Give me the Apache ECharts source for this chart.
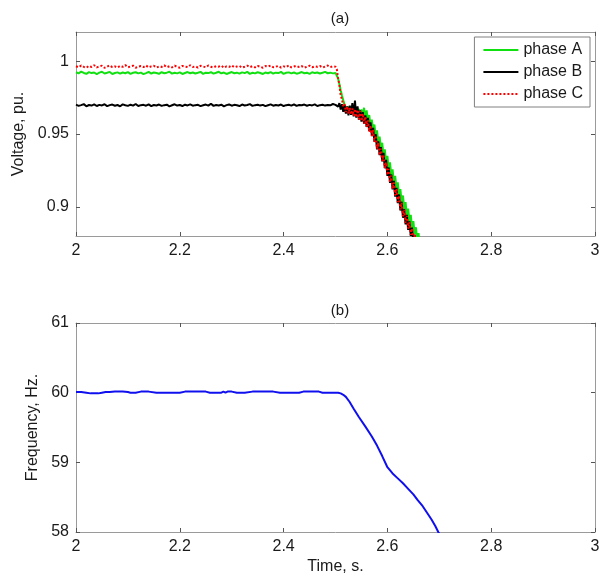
<!DOCTYPE html>
<html><head><meta charset="utf-8">
<script src="https://cdn.jsdelivr.net/npm/echarts@6/dist/echarts.min.js"></script>
<style>html,body{margin:0;padding:0;background:#fff}#c{width:610px;height:576px}</style>
</head><body><div id="c"></div>
<script>
// ---- sampling grid of the voltage record (time, s) ----
const flatStart = 2.0, flatStep = 0.005;     // 2.000 .. 2.500
const dropStart = 2.5025, dropStep = 0.0025; // 2.5025 ..

// ---- panel (a): voltage, pu ----
const phaseA_flat = [0.9924,0.9916,0.9928,0.9919,0.9913,0.9925,0.9918,0.9922,0.9911,0.9921,
0.9927,0.9915,0.9920,0.9926,0.9912,0.9919,0.9923,0.9914,0.9922,0.9917,
0.9925,0.9913,0.9920,0.9924,0.9916,0.9921,0.9911,0.9918,0.9926,0.9915,
0.9922,0.9919,0.9913,0.9924,0.9917,0.9921,0.9927,0.9914,0.9920,0.9916,
0.9923,0.9912,0.9919,0.9925,0.9917,0.9922,0.9915,0.9920,0.9926,0.9913,
0.9921,0.9918,0.9924,0.9914,0.9920,0.9927,0.9916,0.9922,0.9912,0.9919,
0.9925,0.9917,0.9921,0.9914,0.9923,0.9918,0.9926,0.9913,0.9920,0.9916,
0.9924,0.9919,0.9912,0.9922,0.9917,0.9925,0.9915,0.9921,0.9918,0.9926,
0.9913,0.9920,0.9923,0.9916,0.9922,0.9914,0.9919,0.9925,0.9917,0.9921,
0.9912,0.9924,0.9918,0.9922,0.9915,0.9920,0.9926,0.9917,0.9921,0.9916,
0.9919];
const phaseA_drop = [0.9912,0.9880,0.9842,0.9800,0.9765,0.9732,0.9700,0.9692,0.9665,0.9688,
0.9655,0.9682,0.9650,0.9678,0.9645,0.9675,0.9640,0.9672,0.9630,0.9668,
0.9620,0.9680,0.9605,0.9662,0.9585,0.9630,0.9555,0.9598,0.9520,0.9565,
0.9478,0.9525,0.9438,0.9482,0.9395,0.9440,0.9350,0.9395,0.9305,0.9350,
0.9258,0.9305,0.9212,0.9258,0.9165,0.9212,0.9120,0.9168,0.9075,0.9122,
0.9030,0.9078,0.8985,0.9032,0.8940,0.8988,0.8898,0.8945,0.8855,0.8902,
0.8815,0.8860,0.8772,0.8820,0.8730,0.8780,0.8690];

const phaseB_flat = [0.9701,0.9693,0.9698,0.9705,0.9690,0.9699,0.9695,0.9703,0.9692,0.9700,
0.9696,0.9704,0.9691,0.9698,0.9702,0.9694,0.9699,0.9690,0.9703,0.9697,
0.9693,0.9701,0.9695,0.9706,0.9692,0.9698,0.9700,0.9694,0.9703,0.9691,
0.9699,0.9696,0.9702,0.9693,0.9698,0.9701,0.9690,0.9697,0.9704,0.9695,
0.9699,0.9692,0.9701,0.9696,0.9703,0.9694,0.9698,0.9700,0.9691,0.9697,
0.9702,0.9695,0.9708,0.9693,0.9699,0.9696,0.9701,0.9690,0.9698,0.9703,
0.9694,0.9700,0.9697,0.9692,0.9702,0.9696,0.9699,0.9705,0.9693,0.9698,
0.9701,0.9695,0.9700,0.9691,0.9697,0.9703,0.9694,0.9699,0.9696,0.9702,
0.9692,0.9698,0.9701,0.9695,0.9704,0.9693,0.9699,0.9697,0.9702,0.9694,
0.9700,0.9696,0.9703,0.9692,0.9698,0.9701,0.9695,0.9699,0.9697,0.9706,
0.9700];
const phaseB_drop = [0.9702,0.9688,0.9712,0.9668,0.9704,0.9652,0.9698,0.9640,0.9690,0.9628,
0.9695,0.9632,0.9712,0.9620,0.9730,0.9612,0.9690,0.9598,0.9662,0.9585,
0.9650,0.9570,0.9628,0.9548,0.9610,0.9522,0.9580,0.9490,0.9542,0.9448,
0.9498,0.9395,0.9450,0.9355,0.9410,0.9312,0.9370,0.9265,0.9322,0.9212,
0.9270,0.9165,0.9222,0.9120,0.9178,0.9070,0.9130,0.9025,0.9085,0.8975,
0.9035,0.8925,0.8985,0.8880,0.8945,0.8842,0.8900,0.8800,0.8858,0.8762,
0.8810,0.8720,0.8768,0.8680];

const phaseC_flat = [0.9965,0.9958,0.9970,0.9961,0.9955,0.9968,0.9960,0.9972,0.9957,0.9963,
0.9969,0.9954,0.9962,0.9971,0.9959,0.9964,0.9956,0.9967,0.9961,0.9973,
0.9958,0.9963,0.9969,0.9955,0.9962,0.9966,0.9959,0.9970,0.9957,0.9964,
0.9968,0.9956,0.9963,0.9960,0.9971,0.9958,0.9965,0.9957,0.9969,0.9961,
0.9955,0.9967,0.9962,0.9959,0.9972,0.9960,0.9964,0.9956,0.9968,0.9963,
0.9958,0.9970,0.9961,0.9957,0.9966,0.9962,0.9969,0.9955,0.9964,0.9960,
0.9971,0.9958,0.9963,0.9967,0.9956,0.9962,0.9969,0.9959,0.9965,0.9957,
0.9968,0.9961,0.9955,0.9966,0.9963,0.9970,0.9958,0.9962,0.9967,0.9956,
0.9964,0.9960,0.9971,0.9957,0.9963,0.9968,0.9959,0.9965,0.9955,0.9962,
0.9969,0.9958,0.9964,0.9961,0.9967,0.9956,0.9963,0.9970,0.9959,0.9964,
0.9962];
const phaseC_drop = [0.9945,0.9885,0.9835,0.9765,0.9738,0.9690,0.9705,0.9650,0.9690,0.9640,
0.9680,0.9635,0.9675,0.9625,0.9672,0.9615,0.9665,0.9600,0.9658,0.9590,
0.9640,0.9570,0.9618,0.9550,0.9595,0.9515,0.9560,0.9485,0.9528,0.9445,
0.9490,0.9400,0.9440,0.9355,0.9400,0.9315,0.9355,0.9268,0.9305,0.9218,
0.9260,0.9170,0.9215,0.9125,0.9168,0.9078,0.9122,0.9032,0.9075,0.8982,
0.9028,0.8935,0.8980,0.8890,0.8938,0.8850,0.8895,0.8808,0.8852,0.8768,
0.8812,0.8725,0.8770,0.8690];

// ---- panel (b): frequency, Hz ----
const freqT = [2.00,2.01,2.02,2.028,2.035,2.043,2.05,2.057,2.065,2.075,2.09,2.10,2.105,2.115,2.125,2.14,2.155,2.165,2.18,2.20,
2.21,2.22,2.235,2.25,2.258,2.27,2.28,2.284,2.288,2.292,2.296,2.30,2.31,2.325,2.34,2.36,2.38,2.393,2.40,2.415,
2.43,2.438,2.45,2.468,2.475,2.49,2.505,2.51,2.515,2.52,2.527,2.535,2.545,2.557,2.57,2.58,2.59,2.600,2.61,2.62,
2.63,2.64,2.65,2.658,2.668,2.677,2.685,2.692,2.698,2.705];
const freqV = [60.01,60.01,60.0,59.99,59.99,59.99,60.0,60.01,60.01,60.015,60.015,60.01,60.0,60.0,60.015,60.015,60.0,60.0,60.0,60.0,
60.015,60.015,60.015,60.015,60.0,60.0,60.0,60.015,60.0,60.015,60.015,60.015,60.0,60.0,60.015,60.015,60.015,60.0,60.0,60.0,
60.0,60.015,60.015,60.015,60.0,60.0,60.0,59.99,59.97,59.94,59.87,59.77,59.65,59.52,59.37,59.24,59.09,58.93,58.84,58.77,
58.70,58.62,58.54,58.46,58.37,58.27,58.18,58.09,58.0,57.92];

// ---- axes ----
const timeTicks = {min: 2, max: 3, interval: 0.2};
const voltTicks = [0.9, 0.95, 1];
const voltRange = [0.88, 1.02];
const freqRange = [58, 61];

function pairs(flat, drop) {
  const out = [];
  flat.forEach((v, i) => out.push([+(flatStart + i * flatStep).toFixed(4), v]));
  drop.forEach((v, i) => out.push([+(dropStart + i * dropStep).toFixed(4), v]));
  return out;
}

const FONT = "'Liberation Sans', Arial, sans-serif";
const AX = '#9a9a9a';
const tickStyle = {show: true, inside: true, length: 4, lineStyle: {color: '#555'}};
const lbl = {color: '#1a1a1a', fontSize: 16, fontFamily: FONT};

function xAx(grid, pos, labels, name) {
  return {type: 'value', gridIndex: grid, position: pos, min: timeTicks.min, max: timeTicks.max, interval: timeTicks.interval,
    axisLine: {show: true, onZero: false, lineStyle: {color: AX}}, axisTick: tickStyle, splitLine: {show: false},
    axisLabel: Object.assign({show: labels, margin: 7}, lbl),
    name: name || '', nameLocation: 'middle', nameGap: 27, nameTextStyle: {color: '#1a1a1a', fontSize: 16, fontFamily: FONT}};
}
function yAx(grid, pos, labels, range, custom, interval, name, gap) {
  const a = {type: 'value', gridIndex: grid, position: pos, min: range[0], max: range[1],
    axisLine: {show: true, onZero: false, lineStyle: {color: AX}}, splitLine: {show: false},
    axisTick: Object.assign({}, tickStyle), axisLabel: Object.assign({show: labels, margin: 7}, lbl),
    name: name || '', nameLocation: 'middle', nameGap: gap || 0, nameRotate: 90,
    nameTextStyle: {color: '#1a1a1a', fontSize: 16, fontFamily: FONT}};
  if (custom) { a.axisTick.customValues = custom; a.axisLabel.customValues = custom; }
  else { a.interval = interval; }
  return a;
}

const chart = echarts.init(document.getElementById('c'), null, {renderer: 'canvas'});
chart.setOption({
  animation: false,
  backgroundColor: '#fff',
  title: [
    {text: '(a)', left: 335, top: 6, textAlign: 'center', textStyle: {fontSize: 15, fontWeight: 'normal', color: '#1a1a1a', fontFamily: FONT}},
    {text: '(b)', left: 335, top: 298, textAlign: 'center', textStyle: {fontSize: 15, fontWeight: 'normal', color: '#1a1a1a', fontFamily: FONT}}
  ],
  legend: {
    orient: 'vertical', right: 20, top: 37, data: ['phase A', 'phase B', 'phase C'],
    itemWidth: 35, itemHeight: 14, itemGap: 6, padding: [5, 7, 5, 8],
    itemStyle: {opacity: 0},
    backgroundColor: '#fff', borderColor: '#808080', borderWidth: 1, borderRadius: 0,
    textStyle: {fontSize: 16, color: '#1a1a1a', fontFamily: FONT}
  },
  grid: [
    {left: 76, right: 15, top: 32, height: 204},
    {left: 76, right: 15, top: 323, height: 211}
  ],
  xAxis: [
    xAx(0, 'bottom', true), xAx(0, 'top', false),
    xAx(1, 'bottom', true, 'Time, s.'), xAx(1, 'top', false)
  ],
  yAxis: [
    yAx(0, 'left', true, voltRange, voltTicks, null, 'Voltage, pu.', 45),
    yAx(0, 'right', false, voltRange, voltTicks),
    yAx(1, 'left', true, freqRange, null, 1, 'Frequency, Hz.', 31),
    yAx(1, 'right', false, freqRange, null, 1)
  ],
  series: [
    {name: 'phase A', type: 'line', xAxisIndex: 0, yAxisIndex: 0, symbol: 'none', data: pairs(phaseA_flat, phaseA_drop),
      lineStyle: {color: '#10e010', width: 2}, itemStyle: {color: '#10e010'}},
    {name: 'phase B', type: 'line', xAxisIndex: 0, yAxisIndex: 0, symbol: 'none', data: pairs(phaseB_flat, phaseB_drop),
      lineStyle: {color: '#000000', width: 2}, itemStyle: {color: '#000000'}},
    {name: 'phase C', type: 'line', xAxisIndex: 0, yAxisIndex: 0, symbol: 'none', data: pairs(phaseC_flat, phaseC_drop),
      lineStyle: {color: '#ff0000', width: 2, type: 'dotted'}, itemStyle: {color: '#ff0000'}},
    {name: 'frequency', type: 'line', xAxisIndex: 2, yAxisIndex: 2, symbol: 'none',
      data: freqT.map((t, i) => [t, freqV[i]]), lineStyle: {color: '#1010ee', width: 2}, itemStyle: {color: '#1010ee'}}
  ]
});
</script></body></html>
